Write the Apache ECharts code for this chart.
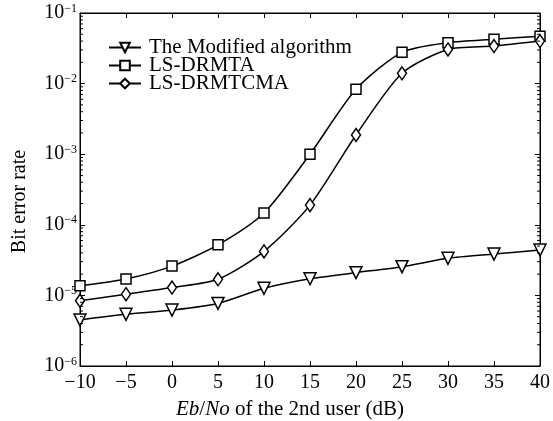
<!DOCTYPE html>
<html>
<head>
<meta charset="utf-8">
<script src="https://cdn.jsdelivr.net/npm/echarts@6/dist/echarts.min.js"></script>
<style>
  html, body { margin: 0; padding: 0; background: #fff; }
  #chart { width: 553px; height: 421px; }
</style>
</head>
<body>
<div id="chart"></div>
<script>
// data
const snr = [-10, -5, 0, 5, 10, 15, 20, 25, 30, 35, 40]
const modified = [4.5e-6, 5.4e-6, 6.2e-6, 7.7e-6, 1.26e-5, 1.72e-5, 2.1e-5, 2.55e-5, 3.35e-5, 3.85e-5, 4.4e-5]
const lsDrmta = [1.37e-5, 1.71e-5, 2.6e-5, 5.2e-5, 1.47e-4, 1.0e-3, 8.3e-3, 2.77e-2, 3.8e-2, 4.25e-2, 4.7e-2]
const lsDrmtcma = [8.4e-6, 1.04e-5, 1.29e-5, 1.69e-5, 4.2e-5, 1.9e-4, 1.87e-3, 1.4e-2, 3.05e-2, 3.4e-2, 4.0e-2]
const seriesNames = ["The Modified algorithm", "LS-DRMTA", "LS-DRMTCMA"]

const FONT = "Liberation Serif"
const chart = echarts.init(document.getElementById("chart"))

const pairs = arr => snr.map((x, i) => [x, arr[i]])

function lineSeries(name, data, symbol, size, rotate) {
  return {
    name: name,
    type: "line",
    smooth: 0.25,
    data: pairs(data),
    symbol: symbol,
    symbolSize: size,
    symbolRotate: rotate || 0,
    showAllSymbol: true,
    lineStyle: { color: "#000", width: 1.5 },
    itemStyle: { color: "#fff", borderColor: "#000", borderWidth: 1.5 },
    z: 3
  }
}

const yLabel = v => {
  const e = Math.round(Math.log10(v))
  return "{b|10}{s|" + (e < 0 ? "\u2212" + -e : e) + "}"
}

const yRich = {
  b: { fontFamily: FONT, fontSize: 20, color: "#000" },
  s: { fontFamily: FONT, fontSize: 12, color: "#000", verticalAlign: "top", padding: [0, 0, 9, 0] }
}

const tickStyle = { inside: true, length: 5, lineStyle: { color: "#000", width: 1 } }

const option = {
  animation: false,
  backgroundColor: "#fff",
  grid: {
    left: 80, right: 13, top: 13, bottom: 55,
    outerBoundsMode: "none",
    containLabel: false,
    show: true, borderColor: "#000", borderWidth: 1
  },
  legend: {
    orient: "vertical",
    left: 103,
    top: 32,
    itemWidth: 32,
    itemHeight: 12,
    itemGap: -3,
    data: seriesNames,
    textStyle: { fontFamily: FONT, fontSize: 21, color: "#000", padding: [0, 0, 0, 3] }
  },
  xAxis: [
    {
      type: "value",
      min: -10,
      max: 40,
      interval: 5,
      name: "{i|Eb}{n|/}{i|No}{n| of the 2nd user (dB)}",
      nameLocation: "middle",
      nameGap: 33,
      nameTextStyle: {
        padding: [0, 40, 0, 0],
        rich: {
          i: { fontFamily: FONT, fontStyle: "italic", fontSize: 21, color: "#000" },
          n: { fontFamily: FONT, fontSize: 21, color: "#000" }
        }
      },
      axisLine: { onZero: false, lineStyle: { color: "#000", width: 1 } },
      axisTick: tickStyle,
      splitLine: { show: false },
      axisLabel: {
        fontFamily: FONT,
        fontSize: 20,
        color: "#000",
        margin: 7,
        formatter: v => String(v).replace("-", "\u2212")
      }
    },
    {
      type: "value",
      position: "top",
      min: -10,
      max: 40,
      interval: 5,
      axisLine: { onZero: false, lineStyle: { color: "#000", width: 1 } },
      axisTick: tickStyle,
      splitLine: { show: false },
      axisLabel: { show: false }
    }
  ],
  yAxis: [
    {
      type: "log",
      logBase: 10,
      min: 1e-6,
      max: 1e-1,
      name: "Bit error rate",
      nameLocation: "middle",
      nameGap: 50,
      nameTextStyle: { fontFamily: FONT, fontSize: 20, color: "#000", padding: [0, 24, 0, 0] },
      axisLine: { onZero: false, lineStyle: { color: "#000", width: 1 } },
      axisTick: tickStyle,
      splitLine: { show: false },
      axisLabel: { margin: 3, formatter: yLabel, rich: yRich }
    },
    {
      type: "log",
      logBase: 10,
      min: 1e-6,
      max: 1e-1,
      position: "right",
      axisLine: { onZero: false, lineStyle: { color: "#000", width: 1 } },
      axisTick: tickStyle,
      splitLine: { show: false },
      axisLabel: { show: false }
    }
  ],
  series: [
    lineSeries(seriesNames[0], modified, "triangle", 12, 180),
    lineSeries(seriesNames[1], lsDrmta, "rect", 10),
    lineSeries(seriesNames[2], lsDrmtcma, "diamond", [9, 13])
  ]
}

chart.setOption(option)

// log minor ticks (2..9 per decade) on both vertical edges
const minor = []
for (let e = -6; e < -1; e++) {
  for (let k = 2; k <= 9; k++) minor.push(k * Math.pow(10, e))
}
const xl = chart.convertToPixel({ xAxisIndex: 0 }, -10)
const xr = chart.convertToPixel({ xAxisIndex: 0 }, 40)
const ticks = []
minor.forEach(v => {
  const y = chart.convertToPixel({ yAxisIndex: 0 }, v)
  ticks.push({ type: "line", shape: { x1: xl, y1: y, x2: xl + 3, y2: y }, style: { stroke: "#000", lineWidth: 1 }, z: 10, silent: true })
  ticks.push({ type: "line", shape: { x1: xr - 3, y1: y, x2: xr, y2: y }, style: { stroke: "#000", lineWidth: 1 }, z: 10, silent: true })
})
chart.setOption({ graphic: { elements: ticks } })
</script>
</body>
</html>
